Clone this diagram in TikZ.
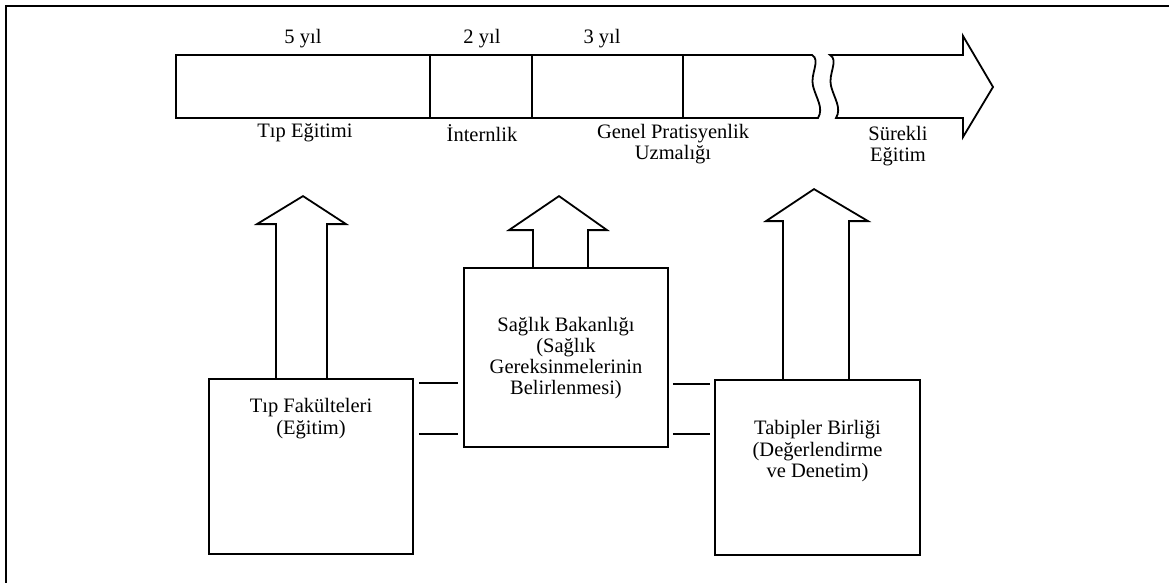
\documentclass[tikz,border=0pt]{standalone}
\usepackage{fontspec}
\setmainfont{Liberation Serif}
\usepackage{tikz}
\usetikzlibrary{positioning, calc}
\tikzset{orgbox/.style={draw, line width=1.8pt, inner sep=0pt, minimum width=204pt}}
\tikzset{lbl/.style={font=\fontsize{20.5}{21.2}\selectfont, inner sep=0pt, align=center}}
\tikzset{link/.style={line width=1.8pt, shorten <=5pt, shorten >=5pt}}
\tikzset{block/.style={line width=1.8pt, line join=miter}}

\begin{document}
\begin{tikzpicture}[x=1pt, y=-1pt]
          \useasboundingbox (0,0) rectangle (1169,583);
          \draw[line width=1.8pt] (6,583) -- (6,6) -- (1169,6);

          % time bar
          \draw[block] (176,55) -- (812,55) .. controls (821,60) and (810,74) .. (813,86)
            .. controls (816,98) and (824,108) .. (818,118) -- (176,118) -- cycle;
          \draw[block] (430,55) -- (430,118);
          \draw[block] (532,55) -- (532,118);
          \draw[block] (683,55) -- (683,118);
          \draw[block] (836,118) .. controls (842,108) and (834,98) .. (831,86)
            .. controls (828,74) and (839,60) .. (830,55) -- (963,55) -- (963,36)
            -- (993,87) -- (963,137) -- (963,118) -- cycle;

          \node[lbl] (y5) at (303,39) {5 yıl};
          \node[lbl] (y2) at (482,39) {2 yıl};
          \node[lbl] (y3) at (602,39) {3 yıl};
          \node[lbl] (tipegt) at (305,133) {Tıp Eğitimi};
          \node[lbl] (intern) at (482,133) {İnternlik};
          \node[lbl] (genel) at (673,144) {Genel Pratisyenlik\\Uzmalığı};
          \node[lbl] (surekli) at (898,146) {Sürekli\\Eğitim};

          % boxes
          \node[orgbox, minimum height=175pt] (tf) at (311,466.5) {};
          \node[lbl] (tftext) at ($(tf.north)+(0,40.5)$) {Tıp Fakülteleri\\(Eğitim)};

          \node[orgbox, minimum height=179pt] (sb) at (566,357.5) {};
          \node[lbl] (sbtext) at ($(sb.north)+(0,91)$) {Sağlık Bakanlığı\\(Sağlık\\Gereksinmelerinin\\Belirlenmesi)};

          \node[orgbox, minimum width=205pt, minimum height=175pt] (tb) at (817.5,467.5) {};
          \node[lbl] (tbtext) at ($(tb.north)+(0,72)$) {Tabipler Birliği\\(Değerlendirme\\ve Denetim)};

          % double links
          \coordinate (l1) at ($(tf.north east)+(0,5)$);
          \coordinate (l2) at ($(tf.north east)+(0,56)$);
          \coordinate (r1) at ($(tb.north west)+(0,5)$);
          \coordinate (r2) at ($(tb.north west)+(0,55)$);
          \draw[link] (l1) -- (l1 -| sb.west);
          \draw[link] (l2) -- (l2 -| sb.west);
          \draw[link, shorten <=4pt, shorten >=4pt] (r1 -| sb.east) -- (r1);
          \draw[link, shorten <=4pt, shorten >=4pt] (r2 -| sb.east) -- (r2);

          % up arrows
          \draw[block] ($(tf.north)+(-35,0)$) -- ++(0,-154) -- ++(-19,0) -- ++(46,-28)
            -- ++(43,28) -- ++(-19,0) -- ++(0,154);
          \draw[block] ($(sb.north)+(-33,0)$) -- ++(0,-37) -- ++(-24,0) -- ++(50,-34)
            -- ++(48,34) -- ++(-19,0) -- ++(0,37);
          \draw[block] ($(tb.north)+(-34.5,0)$) -- ++(0,-158) -- ++(-17,0) -- ++(48,-32)
            -- ++(54,32) -- ++(-19,0) -- ++(0,158);
        \end{tikzpicture}
\end{document}
